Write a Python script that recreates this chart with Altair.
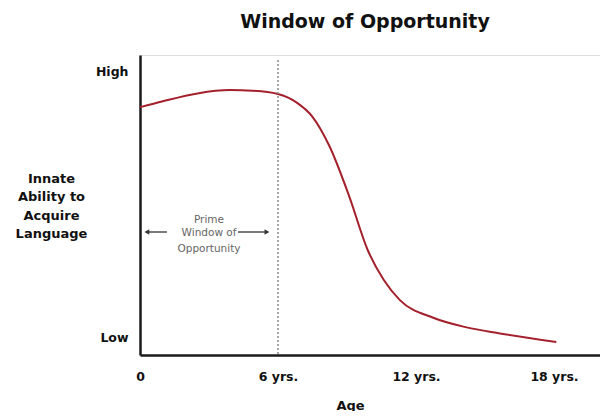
import altair as alt
import pandas as pd

# Curve (age in years, relative ability 0-100)
age = [0, 1, 2.5, 3.9, 4.9, 6, 6.8, 7.5, 8.25, 9.1, 9.9, 10.6, 11.3, 12.75, 14.2, 15.65, 18.1]
ability = [82.6, 84.6, 87.2, 88.3, 88.1, 87.0, 84.2, 79.4, 69.4, 52.8, 35.0, 25.0, 18.3, 12.4, 9.2, 7.2, 4.3]

x_ticks = [0, 6, 12, 18]
y_ticks = [6, 94.5]

window_end = [6]
window_top = [98.3]

note_lines = ["Prime", "Window of", "Opportunity"]
note_y = [45, 40.7, 35.3]
note_x = [3.0, 3.0, 3.0]

arrow_x = [0.3, 4.26]
arrow_x2 = [1.17, 5.52]
arrow_y = [41, 41]
head_x = [0.3, 5.52]
head_shape = ["triangle-left", "triangle-right"]

FONT = "DejaVu Sans"

curve = pd.DataFrame({"age": age, "ability": ability})
xs = alt.Scale(domain=[0, 20], nice=False, zero=False)
ys = alt.Scale(domain=[0, 100], nice=False)

line = alt.Chart(curve).mark_line(
    color="#a3202c", strokeWidth=2, interpolate="monotone"
).encode(
    x=alt.X("age:Q", scale=xs, axis=alt.Axis(
        values=x_ticks, grid=False, ticks=False, domainColor="#1a1a1a", domainWidth=2.5,
        labelExpr="datum.value == 0 ? '0' : datum.value + ' yrs.'",
        labelFont=FONT, labelFontWeight="bold", labelFontSize=12.5, labelColor="#111",
        labelPadding=15, labelFlush=False,
        title="Age", titleFont=FONT, titleFontWeight="bold", titleFontSize=13,
        titleColor="#111", titleX=210, titleY=44, titleAnchor="middle")),
    y=alt.Y("ability:Q", scale=ys, axis=alt.Axis(
        values=y_ticks, grid=False, ticks=False, domainColor="#1a1a1a", domainWidth=2.5,
        labelExpr="datum.value > 50 ? 'High' : 'Low'",
        labelFont=FONT, labelFontWeight="bold", labelFontSize=12.5, labelColor="#111",
        labelPadding=12,
        title=["Innate", "Ability to", "Acquire", "Language"],
        titleFont=FONT, titleFontWeight="bold", titleFontSize=13, titleColor="#111",
        titleAngle=0, titleAlign="center", titleBaseline="top", titleLineHeight=18.5,
        titleX=-89, titleY=117)),
)

vline = alt.Chart(pd.DataFrame({"x": window_end, "top": window_top})).mark_rule(
    color="#888", strokeDash=[2, 2], strokeWidth=1.5
).encode(x="x:Q", y=alt.Y("top:Q", scale=ys), y2=alt.datum(0))

arrows = alt.Chart(pd.DataFrame({"x": arrow_x, "x2": arrow_x2, "y": arrow_y})).mark_rule(
    color="#333", strokeWidth=1.3
).encode(x="x:Q", x2="x2:Q", y="y:Q")

heads = alt.Chart(pd.DataFrame({"x": head_x, "y": arrow_y, "shape": head_shape})).mark_point(
    filled=True, color="#333", size=30, opacity=1
).encode(x="x:Q", y="y:Q", shape=alt.Shape("shape:N", scale=None))

note = alt.Chart(pd.DataFrame({"t": note_lines, "x": note_x, "y": note_y})).mark_text(
    font=FONT, fontSize=10.5, color="#666", align="center", baseline="middle"
).encode(x="x:Q", y="y:Q", text="t:N")

chart = alt.layer(line, vline, arrows, heads, note).properties(
    width=460, height=300,
    autosize=alt.AutoSizeParams(type="none"),
    padding={"left": 132, "top": 47, "right": 0, "bottom": 56},
    title=alt.TitleParams("Window of Opportunity", font=FONT, fontWeight="bold",
                          fontSize=19, color="#111", anchor="middle", dx=-5, offset=23),
).configure_view(stroke=None).configure(background="white")

chart.save("out.html", embed_options={"renderer": "svg", "actions": False})
